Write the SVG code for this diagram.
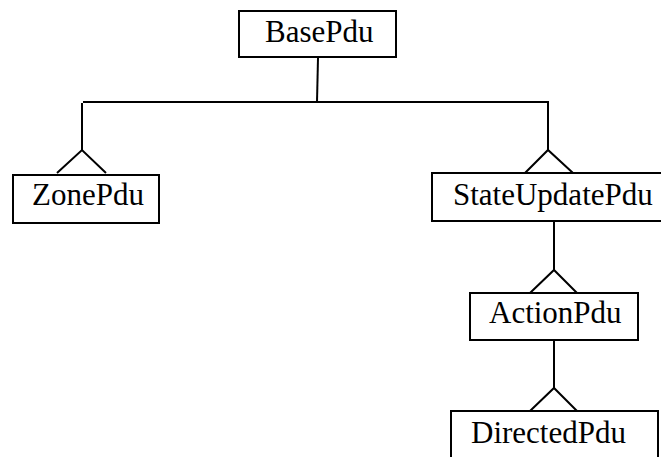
<svg xmlns="http://www.w3.org/2000/svg" width="661" height="457" viewBox="0 0 661 457">
  <style>
    .box { fill: #ffffff; stroke: #000000; stroke-width: 2; }
    .label { font-family: "Liberation Serif", "Times New Roman", serif; font-size: 31px; fill: #000000; }
    .link { fill: none; stroke: #000000; stroke-width: 2; stroke-linejoin: miter; }
  </style>
  <rect width="661" height="457" fill="#ffffff"/>

  <!-- inheritance connectors -->
  <g id="connectors">
    <!-- BasePdu down to the shared bus -->
    <path class="link" d="M318 58 L317 102"/>
    <path class="link" d="M83 102 H549"/>
    <!-- ZonePdu branch -->
    <path class="link" d="M82 103 V150"/>
    <path class="link" d="M57 173 L82 150 L106 173"/>
    <!-- StateUpdatePdu branch -->
    <path class="link" d="M548 102 V150"/>
    <path class="link" d="M525 173 L548 150 L573 173"/>
    <!-- StateUpdatePdu to ActionPdu -->
    <path class="link" d="M554 221 V270"/>
    <path class="link" d="M530 293 L554 270 L577 293"/>
    <!-- ActionPdu to DirectedPdu -->
    <path class="link" d="M554 340 V388"/>
    <path class="link" d="M530 411 L554 388 L577 411"/>
  </g>

  <g id="BasePdu">
    <rect class="box" x="239" y="11" width="157" height="46"/>
    <text class="label" x="265" y="42">BasePdu</text>
  </g>

  <g id="ZonePdu">
    <rect class="box" x="13" y="175" width="146" height="48"/>
    <text class="label" x="32" y="205">ZonePdu</text>
  </g>

  <g id="StateUpdatePdu">
    <rect class="box" x="432" y="173" width="232" height="48"/>
    <text class="label" x="453" y="205">StateUpdatePdu</text>
  </g>

  <g id="ActionPdu">
    <rect class="box" x="470" y="293" width="168" height="47"/>
    <text class="label" x="489" y="323">ActionPdu</text>
  </g>

  <g id="DirectedPdu">
    <rect class="box" x="451" y="411" width="207" height="50"/>
    <text class="label" x="471" y="443">DirectedPdu</text>
  </g>
</svg>
